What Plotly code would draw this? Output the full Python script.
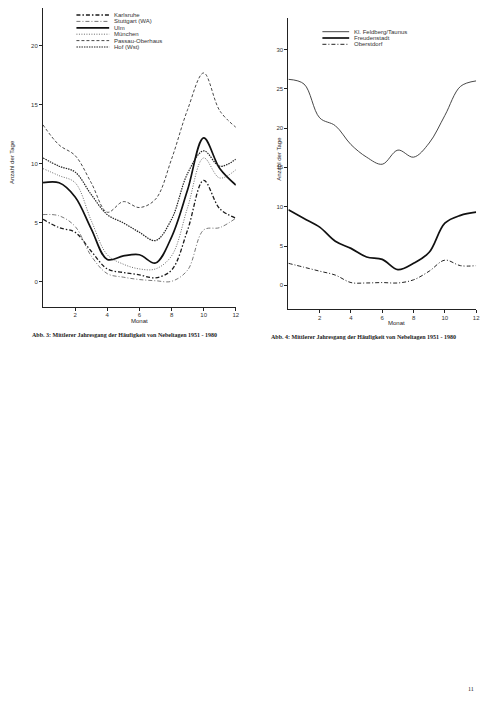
import plotly.graph_objects as go

# months (0 = start of the year, 12 = end)
monate = [0, 1, 2, 3, 4, 5, 6, 7, 8, 9, 10, 11, 12]

# Abb. 3 - stations
karlsruhe = [5.3, 4.6, 4.2, 2.6, 1.1, 0.8, 0.6, 0.35, 1.0, 4.4, 8.6, 6.2, 5.4]
stuttgart = [5.7, 5.6, 4.7, 2.2, 0.7, 0.4, 0.2, 0.1, 0.05, 1.0, 4.4, 4.6, 5.4]
ulm = [8.4, 8.4, 7.2, 4.5, 1.9, 2.2, 2.3, 1.6, 3.8, 7.8, 12.2, 9.6, 8.2]
muenchen = [9.6, 9.0, 8.4, 5.2, 2.3, 1.5, 1.1, 1.1, 2.2, 6.3, 10.5, 8.8, 9.5]
passau = [13.3, 11.6, 10.7, 8.4, 5.9, 6.8, 6.3, 7.0, 10.4, 14.6, 17.7, 14.5, 13.1]
hof = [10.5, 9.8, 9.3, 7.4, 5.7, 5.0, 4.2, 3.5, 5.3, 9.2, 11.1, 9.8, 10.4]

# Abb. 4 - mountain stations
feldberg = [26.2, 25.6, 21.3, 20.3, 17.9, 16.3, 15.4, 17.2, 16.3, 18.1, 21.6, 25.3, 26.0]
freudenstadt = [9.6, 8.5, 7.4, 5.6, 4.7, 3.6, 3.3, 2.0, 2.8, 4.2, 7.9, 8.9, 9.3]
oberstdorf = [2.8, 2.3, 1.8, 1.3, 0.35, 0.3, 0.35, 0.3, 0.7, 1.8, 3.2, 2.5, 2.5]

links = [
    ("Karlsruhe", karlsruhe, dict(color="#1a1a1a", width=1.3, dash="4px,2px,1.5px,2px")),
    ("Stuttgart (WA)", stuttgart, dict(color="#555555", width=0.8, dash="4px,2px,1px,2px")),
    ("Ulm", ulm, dict(color="#111111", width=1.7)),
    ("München", muenchen, dict(color="#444444", width=0.8, dash="1px,1.5px")),
    ("Passau-Oberhaus", passau, dict(color="#333333", width=0.9, dash="3px,2px")),
    ("Hof (Wst)", hof, dict(color="#222222", width=1.2, dash="1.5px,1px")),
]
rechts = [
    ("Kl. Feldberg/Taunus", feldberg, dict(color="#333333", width=0.9)),
    ("Freudenstadt", freudenstadt, dict(color="#111111", width=1.7)),
    ("Oberstdorf", oberstdorf, dict(color="#222222", width=1.0, dash="4px,2px,1px,2px")),
]

fig = go.Figure()
for name, vals, ln in links:
    fig.add_trace(go.Scatter(x=monate, y=vals, mode="lines", name=name,
                             line=dict(shape="spline", smoothing=1.0, **ln),
                             xaxis="x", yaxis="y", showlegend=False))
for name, vals, ln in rechts:
    fig.add_trace(go.Scatter(x=monate, y=vals, mode="lines", name=name,
                             line=dict(shape="spline", smoothing=1.0, **ln),
                             xaxis="x2", yaxis="y2", showlegend=False))

# the page body keeps an 8px margin, so the figure is a bit smaller and
# page positions are shifted by that margin
OFF = 8
W, H = 504 - 2 * OFF, 706 - 2 * OFF
def px(x):
    return (x - OFF) / W
def py(y):
    return 1 - (y - OFF) / H

tickfont = dict(family="Liberation Sans, Arial", size=6, color="#333333")
ax = dict(showline=True, linecolor="#222222", linewidth=1, showgrid=False,
          zeroline=False, ticks="outside", ticklen=3, tickwidth=0.8,
          tickcolor="#222222", tickfont=tickfont)

# legend drawn as small line samples + labels (legend spacing in plotly is too big)
shapes = []
annots = []
def legende(items, x0, x1, y0, step):
    for i, (name, vals, ln) in enumerate(items):
        yy = py(y0 + i * step)
        shapes.append(dict(type="line", xref="paper", yref="paper",
                           x0=px(x0), x1=px(x1), y0=yy, y1=yy,
                           line=dict(color=ln["color"], width=ln["width"],
                                     dash=ln.get("dash", "solid"))))
        annots.append(dict(x=px(x1 + 3), y=yy, xref="paper", yref="paper",
                           text=name, showarrow=False, xanchor="left",
                           yanchor="middle", font=tickfont))

legende(links, 77, 110, 15, 6.4)
legende(rechts, 325, 352, 31.7, 6.3)

def text(x, y, s, size=6, angle=0, fam="Liberation Sans, Arial", bold=False):
    annots.append(dict(x=px(x), y=py(y), xref="paper", yref="paper",
                       text=("<b>%s</b>" % s) if bold else s, showarrow=False,
                       textangle=angle, xanchor="center", yanchor="middle",
                       font=dict(family=fam, size=size, color="#222222")))

text(12, 162, "Anzahl der Tage", angle=-90)
text(281, 159, "Anzahl der Tage", angle=-90)
text(141, 321.5, "Monat")
text(400, 323, "Monat")
text(125, 334.5, "Abb. 3: Mittlerer Jahresgang der Häufigkeit von Nebeltagen 1951 - 1980",
     size=6, fam="Liberation Serif, Times New Roman", bold=True)
text(366, 337, "Abb. 4: Mittlerer Jahresgang der Häufigkeit von Nebeltagen 1951 - 1980",
     size=6, fam="Liberation Serif, Times New Roman", bold=True)
text(475, 689, "11", size=6, fam="Liberation Serif, Times New Roman")

xticks = [2, 4, 6, 8, 10, 12]
fig.update_layout(
    width=W, height=H,
    margin=dict(l=0, r=0, t=0, b=0),
    paper_bgcolor="white", plot_bgcolor="white",
    xaxis=dict(ax, domain=[px(43.3), px(237.7)], range=[0, 12], tickvals=xticks,
               anchor="y", ticklabelstandoff=-1),
    yaxis=dict(ax, domain=[py(306.7), py(8)], range=[-2.1, 23.2],
               tickvals=[0, 5, 10, 15, 20], anchor="x"),
    xaxis2=dict(ax, domain=[px(290.7), px(480)], range=[0, 12], tickvals=xticks,
                anchor="y2", ticklabelstandoff=-1),
    yaxis2=dict(ax, domain=[py(309.3), py(18)], range=[-3.05, 34],
                tickvals=[0, 5, 10, 15, 20, 25, 30], anchor="x2"),
    shapes=shapes,
    annotations=annots,
)

fig.write_html("out.html")
